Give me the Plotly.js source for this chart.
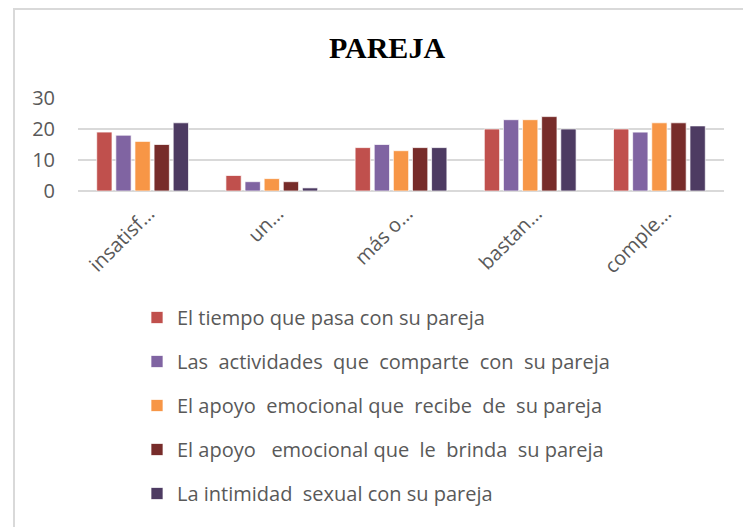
<!DOCTYPE html>
<html>
<head>
<meta charset="utf-8">
<script src="https://cdn.plot.ly/plotly-3.0.1.min.js"></script>
<style>html,body{margin:0;padding:0;background:#fff;}#chart{width:743px;height:527px;}</style>
</head>
<body>
<div id="chart"></div>
<script>
var categories = ["insatisf…", "un…", "más o…", "bastan…", "comple…"];
var seriesNames = [
  "El tiempo que pasa con su pareja",
  "Las\u00a0 actividades\u00a0 que\u00a0 comparte\u00a0 con\u00a0 su pareja",
  "El apoyo\u00a0 emocional que\u00a0 recibe\u00a0 de\u00a0 su pareja",
  "El apoyo\u00a0\u00a0 emocional que\u00a0 le\u00a0 brinda\u00a0 su pareja",
  "La intimidad\u00a0 sexual con su pareja"
];
var tiempo      = [19, 5, 14, 20, 20];
var actividades = [18, 3, 15, 23, 19];
var apoyoRecibe = [16, 4, 13, 23, 22];
var apoyoBrinda = [15, 3, 14, 24, 22];
var intimidad   = [22, 1, 14, 20, 21];
var seriesValues = [tiempo, actividades, apoyoRecibe, apoyoBrinda, intimidad];
var colors = ["#C0504D", "#8064A2", "#F79646", "#772C2A", "#4D3B62"];

var W = 743, H = 527;
var ml = 78, mr = 19, mt = 98, mb = 336;
var pw = W - ml - mr, ph = H - mt - mb;

var traces = seriesValues.map(function (vals, i) {
  return {
    type: "bar",
    name: seriesNames[i],
    x: categories,
    y: vals,
    legendgroup: "g" + i,
    marker: { color: colors[i], line: { color: "rgba(255,255,255,0.7)", width: 1 } },
    hoverinfo: "y+name"
  };
});

function px2x(px) { return (px - ml) / pw; }
function py2y(py) { return (H - mb - py) / ph; }

var layout = {
  width: W, height: H,
  margin: { l: ml, r: mr, t: mt, b: mb, pad: 0 },
  paper_bgcolor: "#ffffff",
  plot_bgcolor: "#ffffff",
  barmode: "group",
  bargap: 0.26,
  bargroupgap: 0.2,
  font: { family: "Open Sans, sans-serif", color: "#595959" },
  title: {
    text: "<b>PAREJA</b>",
    font: { family: "Liberation Serif, Times New Roman, serif", size: 30, color: "#000000" },
    xref: "paper", x: px2x(387), xanchor: "center",
    yref: "container", y: 1 - 47 / H, yanchor: "middle"
  },
  xaxis: {
    type: "category",
    tickangle: -45,
    tickfont: { size: 20, color: "#595959" },
    ticklabelstandoff: 6,
    ticklabelshift: 6,
    showgrid: false,
    showline: false,
    zeroline: false,
    ticks: ""
  },
  yaxis: {
    range: [0, 30],
    dtick: 10,
    tickfont: { size: 20, color: "#595959" },
    showgrid: true,
    gridcolor: "#d9d9d9",
    gridwidth: 2,
    zeroline: true,
    zerolinecolor: "#d9d9d9",
    zerolinewidth: 2,
    showline: false,
    ticks: "",
    ticklabelstandoff: 22,
    fixedrange: true
  },
  legend: {
    orientation: "v",
    x: px2x(137), xanchor: "left",
    y: py2y(298), yanchor: "top",
    font: { size: 20, color: "#595959" },
    tracegroupgap: 15,
    traceorder: "grouped",
    bgcolor: "rgba(0,0,0,0)"
  },
  shapes: [
    { type: "line", xref: "paper", yref: "paper", x0: px2x(14), x1: px2x(14), y0: py2y(9), y1: py2y(527), line: { color: "#d9d9d9", width: 2 } },
    { type: "line", xref: "paper", yref: "paper", x0: px2x(13), x1: px2x(743), y0: py2y(9), y1: py2y(9), line: { color: "#d9d9d9", width: 2 } }
  ],
  showlegend: true
};

Plotly.newPlot("chart", traces, layout, { displayModeBar: false, staticPlot: true });
</script>
</body>
</html>
